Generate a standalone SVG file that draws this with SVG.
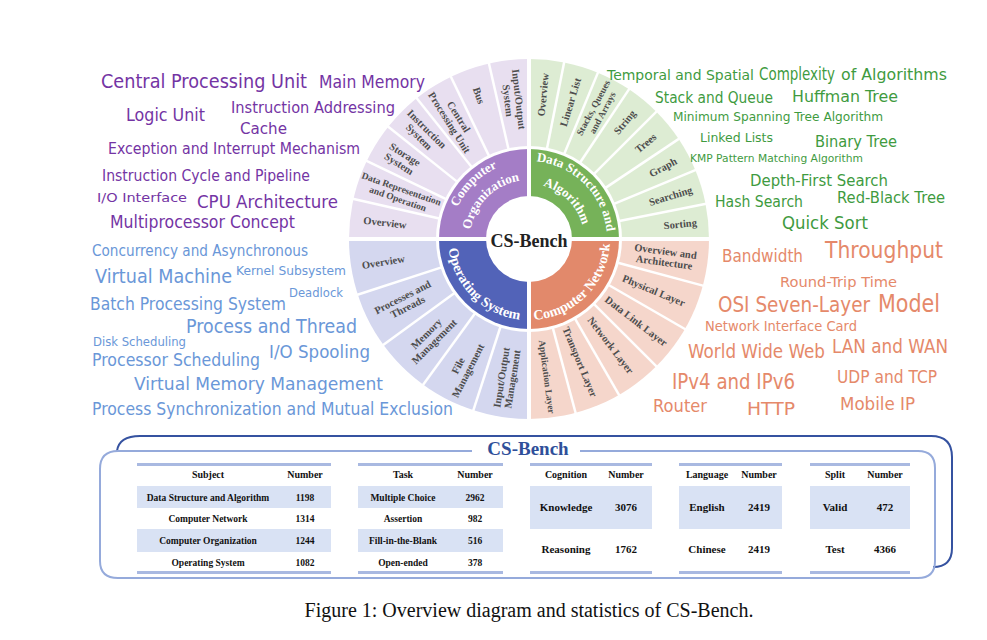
<svg xmlns="http://www.w3.org/2000/svg" width="987" height="640" viewBox="0 0 987 640">
<style>
.seg{font-family:"Liberation Serif",serif;font-weight:bold;fill:#4d4d4d;text-anchor:middle}
.s1{font-size:10.5px}
.s2{font-size:9.5px}
.ring{font-family:"Liberation Serif",serif;font-weight:bold;fill:#fff;font-size:13px}
.sep{stroke:#fff;stroke-width:2.5}
.wc{font-family:"DejaVu Sans",sans-serif}
.pu{fill:#7434a4}
.gr{fill:#3f9b3f}
.bl{fill:#6a97d8}
.or{fill:#e5896a}
.th{font-family:"Liberation Serif",serif;font-weight:bold;font-size:10px;fill:#111;text-anchor:middle}
.td{font-family:"Liberation Serif",serif;font-weight:bold;font-size:9.5px;fill:#111;text-anchor:middle}
.tb{font-family:"Liberation Serif",serif;font-weight:bold;font-size:11px;fill:#111;text-anchor:middle}
.rule{fill:#a9b9e1}
.shade{fill:#d9e2f4}
</style>
<defs>
<path id="pCO1" d="M451,239 A78,78 0 0 1 529,161"/>
<path id="pCO2" d="M470,239 A59,59 0 0 1 529,180"/>
<path id="pDS1" d="M529,161 A78,78 0 0 1 607,239"/>
<path id="pDS2" d="M529,184 A55,55 0 0 1 584,239"/>
<path id="pOS" d="M448,239 A81,81 0 0 0 529,320"/>
<path id="pCN" d="M529,320 A81,81 0 0 0 610,239"/>
</defs>
<rect width="987" height="640" fill="#fff"/>

<g id="sunburst">
<path d="M529,239 L349,239 A180,180 0 0 1 529,59 Z" fill="#e8dff0"/>
<path d="M529,239 L529,59 A180,180 0 0 1 709,239 Z" fill="#ddecd3"/>
<path d="M529,239 L709,239 A180,180 0 0 1 529,419 Z" fill="#f5d6cb"/>
<path d="M529,239 L529,419 A180,180 0 0 1 349,239 Z" fill="#d4d7ef"/>
<circle cx="529" cy="239" r="93" fill="#fff"/>
<path d="M529,239 L439,239 A90,90 0 0 1 529,149 Z" fill="#a47dc6"/>
<path d="M529,239 L529,149 A90,90 0 0 1 619,239 Z" fill="#76b259"/>
<path d="M529,239 L619,239 A90,90 0 0 1 529,329 Z" fill="#e2896b"/>
<path d="M529,239 L529,329 A90,90 0 0 1 439,239 Z" fill="#5263b8"/>
<circle cx="529" cy="239" r="43" fill="#fff"/>
<g transform="translate(529,239)">
<g class="sep">
<line x1="92" y1="0" x2="182" y2="0" transform="rotate(192.857)"/>
<line x1="92" y1="0" x2="182" y2="0" transform="rotate(205.714)"/>
<line x1="92" y1="0" x2="182" y2="0" transform="rotate(218.571)"/>
<line x1="92" y1="0" x2="182" y2="0" transform="rotate(231.429)"/>
<line x1="92" y1="0" x2="182" y2="0" transform="rotate(244.286)"/>
<line x1="92" y1="0" x2="182" y2="0" transform="rotate(257.143)"/>
<line x1="92" y1="0" x2="182" y2="0" transform="rotate(281.25)"/>
<line x1="92" y1="0" x2="182" y2="0" transform="rotate(292.5)"/>
<line x1="92" y1="0" x2="182" y2="0" transform="rotate(303.75)"/>
<line x1="92" y1="0" x2="182" y2="0" transform="rotate(315)"/>
<line x1="92" y1="0" x2="182" y2="0" transform="rotate(326.25)"/>
<line x1="92" y1="0" x2="182" y2="0" transform="rotate(337.5)"/>
<line x1="92" y1="0" x2="182" y2="0" transform="rotate(348.75)"/>
<line x1="92" y1="0" x2="182" y2="0" transform="rotate(15)"/>
<line x1="92" y1="0" x2="182" y2="0" transform="rotate(30)"/>
<line x1="92" y1="0" x2="182" y2="0" transform="rotate(45)"/>
<line x1="92" y1="0" x2="182" y2="0" transform="rotate(60)"/>
<line x1="92" y1="0" x2="182" y2="0" transform="rotate(75)"/>
<line x1="92" y1="0" x2="182" y2="0" transform="rotate(108)"/>
<line x1="92" y1="0" x2="182" y2="0" transform="rotate(126)"/>
<line x1="92" y1="0" x2="182" y2="0" transform="rotate(144)"/>
<line x1="92" y1="0" x2="182" y2="0" transform="rotate(162)"/>
</g>
<line x1="-183" y1="0" x2="183" y2="0" stroke="#fff" stroke-width="4"/>
<line x1="0" y1="-183" x2="0" y2="183" stroke="#fff" stroke-width="4"/>

<g id="co-segments" class="seg">
<text class="s1" transform="rotate(186.43) translate(145,0) rotate(180)" y="3.5">Overview</text>
<text class="s2" transform="rotate(199.29) translate(137,0) rotate(180)"><tspan x="0" y="-2">Data Representation</tspan><tspan x="0" y="8.5">and Operation</tspan></text>
<text class="s1" transform="rotate(212.14) translate(150,0) rotate(180)"><tspan x="0" y="-2">Storage</tspan><tspan x="0" y="9">System</tspan></text>
<text class="s1" transform="rotate(225) translate(150,0) rotate(180)"><tspan x="0" y="-2">Instruction</tspan><tspan x="0" y="9">System</tspan></text>
<text class="s1" transform="rotate(237.86) translate(141,0) rotate(180)"><tspan x="0" y="-2">Central</tspan><tspan x="0" y="9">Processing Unit</tspan></text>
<text class="s1" transform="rotate(250.71) translate(152,0) rotate(180)" y="3.5">Bus</text>
<text class="s1" transform="rotate(263.57) translate(140,0) rotate(180)"><tspan x="0" y="-2">Input/Output</tspan><tspan x="0" y="9">System</tspan></text>
</g>
<g id="dsa-segments" class="seg">
<text class="s1" transform="rotate(275.625) translate(145,0)" y="3.5">Overview</text>
<text class="s1" transform="rotate(286.875) translate(143,0)" y="3.5">Linear List</text>
<text class="s2" transform="rotate(298.125) translate(146,0)"><tspan x="0" y="-2">Stacks, Queues</tspan><tspan x="0" y="8.5">and Arrays</tspan></text>
<text class="s1" transform="rotate(309.375) translate(151,0)" y="3.5">String</text>
<text class="s1" transform="rotate(320.625) translate(151,0)" y="3.5">Trees</text>
<text class="s1" transform="rotate(331.875) translate(152,0)" y="3.5">Graph</text>
<text class="s1" transform="rotate(343.125) translate(148,0)" y="3.5">Searching</text>
<text class="s1" transform="rotate(354.375) translate(152,0)" y="3.5">Sorting</text>
</g>
<g id="cn-segments" class="seg">
<text class="s1" transform="rotate(7.5) translate(137,0)"><tspan x="0" y="-2">Overview and</tspan><tspan x="0" y="9">Architecture</tspan></text>
<text class="s1" transform="rotate(22.5) translate(135,0)" y="3.5">Physical Layer</text>
<text class="s1" transform="rotate(37.5) translate(135,0)" y="3.5">Data Link Layer</text>
<text class="s1" transform="rotate(52.5) translate(134,0)" y="3.5">Network Layer</text>
<text class="s1" transform="rotate(67.5) translate(133,0)" y="3.5">Transport Layer</text>
<text class="s2" transform="rotate(82.5) translate(139,0)" y="3.5">Application Layer</text>
</g>
<g id="os-segments" class="seg">
<text class="s1" transform="rotate(99) translate(141,0) rotate(180)"><tspan x="0" y="-2">Input/Output</tspan><tspan x="0" y="9">Management</tspan></text>
<text class="s1" transform="rotate(117) translate(145,0) rotate(180)"><tspan x="0" y="-2">File</tspan><tspan x="0" y="9">Management</tspan></text>
<text class="s1" transform="rotate(135) translate(139.5,0) rotate(180)"><tspan x="0" y="-2">Memory</tspan><tspan x="0" y="9">Management</tspan></text>
<text class="s1" transform="rotate(153) translate(139,0) rotate(180)"><tspan x="0" y="-2">Processes and</tspan><tspan x="0" y="9">Threads</tspan></text>
<text class="s1" transform="rotate(171) translate(147.5,0) rotate(180)" y="3.5">Overview</text>
</g>
</g>
<g id="categories" class="ring">
<text><textPath href="#pCO1" startOffset="50%" text-anchor="middle">Computer</textPath></text>
<text><textPath href="#pCO2" startOffset="50%" text-anchor="middle">Organization</textPath></text>
<text><textPath href="#pDS1" startOffset="50%" text-anchor="middle">Data Structure and</textPath></text>
<text><textPath href="#pDS2" startOffset="50%" text-anchor="middle">Algorithm</textPath></text>
<text style="font-size:14px"><textPath href="#pOS" startOffset="50%" text-anchor="middle">Operating System</textPath></text>
<text style="font-size:14px"><textPath href="#pCN" startOffset="50%" text-anchor="middle">Computer Network</textPath></text>
</g>
<g id="center">
<text x="529" y="247" text-anchor="middle" font-family="Liberation Serif, serif" font-weight="bold" font-size="18" fill="#222">CS-Bench</text>
</g>
</g>

<g id="cloud-co" class="wc pu">
<text x="101" y="88" font-size="20" textLength="206" lengthAdjust="spacingAndGlyphs">Central Processing Unit</text>
<text x="319" y="88" font-size="18" textLength="106" lengthAdjust="spacingAndGlyphs">Main Memory</text>
<text x="126" y="121" font-size="18" textLength="79" lengthAdjust="spacingAndGlyphs">Logic Unit</text>
<text x="231" y="113" font-size="15" textLength="164" lengthAdjust="spacingAndGlyphs">Instruction Addressing</text>
<text x="240" y="134" font-size="16" textLength="47" lengthAdjust="spacingAndGlyphs">Cache</text>
<text x="108" y="154" font-size="16" textLength="252" lengthAdjust="spacingAndGlyphs">Exception and Interrupt Mechanism</text>
<text x="102" y="181" font-size="16" textLength="208" lengthAdjust="spacingAndGlyphs">Instruction Cycle and Pipeline</text>
<text x="97" y="202" font-size="13" textLength="90" lengthAdjust="spacingAndGlyphs">I/O Interface</text>
<text x="197" y="208" font-size="17" textLength="141" lengthAdjust="spacingAndGlyphs">CPU Architecture</text>
<text x="110" y="228" font-size="17" textLength="185" lengthAdjust="spacingAndGlyphs">Multiprocessor Concept</text>
</g>
<g id="cloud-os" class="wc bl">
<text x="92" y="256" font-size="15" textLength="216" lengthAdjust="spacingAndGlyphs">Concurrency and Asynchronous</text>
<text x="95" y="283" font-size="19" textLength="137" lengthAdjust="spacingAndGlyphs">Virtual Machine</text>
<text x="236" y="275" font-size="13" textLength="110" lengthAdjust="spacingAndGlyphs">Kernel Subsystem</text>
<text x="289" y="297" font-size="13" textLength="54" lengthAdjust="spacingAndGlyphs">Deadlock</text>
<text x="90" y="310" font-size="17" textLength="196" lengthAdjust="spacingAndGlyphs">Batch Processing System</text>
<text x="186" y="333" font-size="19" textLength="171" lengthAdjust="spacingAndGlyphs">Process and Thread</text>
<text x="93" y="346" font-size="13" textLength="93" lengthAdjust="spacingAndGlyphs">Disk Scheduling</text>
<text x="92" y="366" font-size="17" textLength="168" lengthAdjust="spacingAndGlyphs">Processor Scheduling</text>
<text x="269" y="358" font-size="17" textLength="101" lengthAdjust="spacingAndGlyphs">I/O Spooling</text>
<text x="134" y="390" font-size="18" textLength="249" lengthAdjust="spacingAndGlyphs">Virtual Memory Management</text>
<text x="92" y="415" font-size="17" textLength="361" lengthAdjust="spacingAndGlyphs">Process Synchronization and Mutual Exclusion</text>
</g>
<g id="cloud-dsa" class="wc gr">
<text y="80"><tspan x="607" font-size="14" textLength="147" lengthAdjust="spacingAndGlyphs">Temporal and Spatial</tspan><tspan x="759" font-size="18" textLength="76" lengthAdjust="spacingAndGlyphs">Complexity</tspan><tspan x="841" font-size="15" textLength="106" lengthAdjust="spacingAndGlyphs">of Algorithms</tspan></text>
<text x="655" y="103" font-size="15" textLength="118" lengthAdjust="spacingAndGlyphs">Stack and Queue</text>
<text x="792" y="102" font-size="16" textLength="106" lengthAdjust="spacingAndGlyphs">Huffman Tree</text>
<text x="673" y="121" font-size="12.5" textLength="210" lengthAdjust="spacingAndGlyphs">Minimum Spanning Tree Algorithm</text>
<text x="700" y="142" font-size="13" textLength="73" lengthAdjust="spacingAndGlyphs">Linked Lists</text>
<text x="815" y="147" font-size="16" textLength="82" lengthAdjust="spacingAndGlyphs">Binary Tree</text>
<text x="690" y="162" font-size="11" textLength="173" lengthAdjust="spacingAndGlyphs">KMP Pattern Matching Algorithm</text>
<text x="750" y="186" font-size="15" textLength="138" lengthAdjust="spacingAndGlyphs">Depth-First Search</text>
<text x="715" y="207" font-size="16" textLength="88" lengthAdjust="spacingAndGlyphs">Hash Search</text>
<text x="837" y="203" font-size="16" textLength="108" lengthAdjust="spacingAndGlyphs">Red-Black Tree</text>
<text x="782" y="229" font-size="17" textLength="86" lengthAdjust="spacingAndGlyphs">Quick Sort</text>
</g>
<g id="cloud-cn" class="wc or">
<text x="722" y="262" font-size="18" textLength="81" lengthAdjust="spacingAndGlyphs">Bandwidth</text>
<text x="825" y="258" font-size="23" textLength="118" lengthAdjust="spacingAndGlyphs">Throughput</text>
<text x="780" y="287" font-size="14" textLength="117" lengthAdjust="spacingAndGlyphs">Round-Trip Time</text>
<text x="718" y="312" font-size="21" textLength="152" lengthAdjust="spacingAndGlyphs">OSI Seven-Layer</text>
<text x="878" y="312" font-size="25" textLength="62" lengthAdjust="spacingAndGlyphs">Model</text>
<text x="705" y="331" font-size="13.5" textLength="152" lengthAdjust="spacingAndGlyphs">Network Interface Card</text>
<text x="688" y="358" font-size="19" textLength="137" lengthAdjust="spacingAndGlyphs">World Wide Web</text>
<text x="832" y="353" font-size="19" textLength="116" lengthAdjust="spacingAndGlyphs">LAN and WAN</text>
<text x="672" y="389" font-size="21" textLength="123" lengthAdjust="spacingAndGlyphs">IPv4 and IPv6</text>
<text x="837" y="383" font-size="18" textLength="100" lengthAdjust="spacingAndGlyphs">UDP and TCP</text>
<text x="653" y="412" font-size="18" textLength="54" lengthAdjust="spacingAndGlyphs">Router</text>
<text x="747" y="415" font-size="18" textLength="48" lengthAdjust="spacingAndGlyphs">HTTP</text>
<text x="840" y="410" font-size="18" textLength="75" lengthAdjust="spacingAndGlyphs">Mobile IP</text>
</g>

<g id="stats-frame" fill="none">
<path d="M117,451 Q119,436 140,436 L931,436 Q952,436 952,457 L952,548 Q952,567 933,567" stroke="#3552a0" stroke-width="2"/>
<path d="M472,451 L118,451 Q100,451 100,469 L100,561 Q100,578 118,578 L918,578 Q935,578 935,561 L935,468 Q935,451 918,451 L580,451" stroke="#95aadb" stroke-width="2"/>
<text x="528" y="455" text-anchor="middle" font-family="Liberation Serif, serif" font-weight="bold" font-size="19" fill="#2f4f9a">CS-Bench</text>
</g>

<g id="table-subject">
<rect class="rule" x="137" y="463" width="194" height="3"/>
<rect class="shade" x="137" y="486" width="194" height="22"/>
<rect class="shade" x="137" y="529" width="194" height="23"/>
<rect class="rule" x="137" y="571" width="194" height="3"/>
<text class="th" x="208" y="478">Subject</text><text class="th" x="305" y="478">Number</text>
<text class="td" x="208" y="500.5">Data Structure and Algorithm</text><text class="td" x="305" y="500.5">1198</text>
<text class="td" x="208" y="521.5">Computer Network</text><text class="td" x="305" y="521.5">1314</text>
<text class="td" x="208" y="543.5">Computer Organization</text><text class="td" x="305" y="543.5">1244</text>
<text class="td" x="208" y="565.5">Operating System</text><text class="td" x="305" y="565.5">1082</text>
</g>
<g id="table-task">
<rect class="rule" x="358" y="463" width="145" height="3"/>
<rect class="shade" x="358" y="486" width="145" height="22"/>
<rect class="shade" x="358" y="529" width="145" height="23"/>
<rect class="rule" x="358" y="571" width="145" height="3"/>
<text class="th" x="403" y="478">Task</text><text class="th" x="475" y="478">Number</text>
<text class="td" x="403" y="500.5">Multiple Choice</text><text class="td" x="475" y="500.5">2962</text>
<text class="td" x="403" y="521.5">Assertion</text><text class="td" x="475" y="521.5">982</text>
<text class="td" x="403" y="543.5">Fill-in-the-Blank</text><text class="td" x="475" y="543.5">516</text>
<text class="td" x="403" y="565.5">Open-ended</text><text class="td" x="475" y="565.5">378</text>
</g>
<g id="table-cognition">
<rect class="rule" x="530" y="463" width="122" height="3"/>
<rect class="shade" x="530" y="486" width="122" height="43"/>
<rect class="rule" x="530" y="571" width="122" height="3"/>
<text class="th" x="566" y="478">Cognition</text><text class="th" x="626" y="478">Number</text>
<text class="tb" x="566" y="511">Knowledge</text><text class="tb" x="626" y="511">3076</text>
<text class="tb" x="566" y="553">Reasoning</text><text class="tb" x="626" y="553">1762</text>
</g>
<g id="table-language">
<rect class="rule" x="679" y="463" width="103" height="3"/>
<rect class="shade" x="679" y="486" width="103" height="43"/>
<rect class="rule" x="679" y="571" width="103" height="3"/>
<text class="th" x="707" y="478">Language</text><text class="th" x="759" y="478">Number</text>
<text class="tb" x="707" y="511">English</text><text class="tb" x="759" y="511">2419</text>
<text class="tb" x="707" y="553">Chinese</text><text class="tb" x="759" y="553">2419</text>
</g>
<g id="table-split">
<rect class="rule" x="810" y="463" width="100" height="3"/>
<rect class="shade" x="810" y="486" width="100" height="43"/>
<rect class="rule" x="810" y="571" width="100" height="3"/>
<text class="th" x="835" y="478">Split</text><text class="th" x="885" y="478">Number</text>
<text class="tb" x="835" y="511">Valid</text><text class="tb" x="885" y="511">472</text>
<text class="tb" x="835" y="553">Test</text><text class="tb" x="885" y="553">4366</text>
</g>

<g id="caption">
<text x="529" y="617" text-anchor="middle" font-family="Liberation Serif, serif" font-size="20" fill="#111">Figure 1: Overview diagram and statistics of CS-Bench.</text>
</g>
</svg>
